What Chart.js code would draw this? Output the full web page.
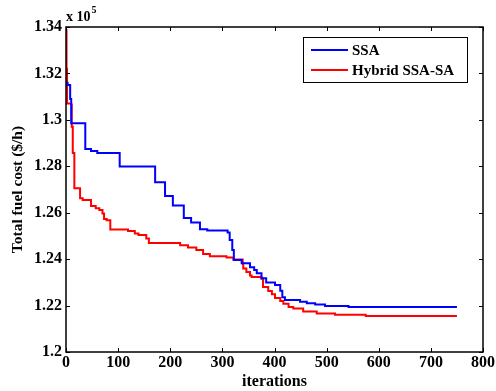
<!DOCTYPE html>
<html>
<head>
<meta charset="utf-8">
<script src="https://cdn.jsdelivr.net/npm/chart.js@4/dist/chart.umd.min.js"></script>
<style>
  html, body { margin: 0; padding: 0; background: #fff; }
  canvas { display: block; }
</style>
</head>
<body>
<canvas id="costChart" width="496" height="391"></canvas>
<script>
// SSA convergence (iteration where the value changes, cost x 1e5)
const ssaIter = [0, 3, 8, 10, 37, 48, 60, 103, 171, 190, 205, 226, 240, 257, 271, 310, 314, 319, 322, 337, 353, 361, 366, 375, 384, 401, 411, 415, 420, 449, 462, 478, 497, 542, 750];
const ssaCost = [1.316, 1.315, 1.309, 1.2985, 1.2874, 1.2866, 1.2857, 1.2799, 1.2731, 1.2672, 1.2631, 1.2577, 1.2558, 1.2529, 1.2523, 1.2515, 1.2483, 1.2439, 1.2396, 1.2382, 1.2365, 1.2353, 1.2339, 1.2318, 1.2299, 1.2289, 1.2264, 1.2236, 1.2224, 1.2217, 1.2210, 1.2205, 1.2198, 1.2194, 1.2194];

// Hybrid SSA-SA convergence
const hybIter = [0, 1, 2, 10, 11, 13, 16, 27, 32, 48, 57, 64, 70, 73, 78, 85, 119, 132, 139, 154, 159, 219, 234, 250, 263, 276, 308, 321, 339, 340, 346, 353, 356, 375, 378, 388, 395, 401, 411, 417, 427, 436, 455, 481, 516, 575, 750];
const hybCost = [1.3387, 1.322, 1.307, 1.3065, 1.297, 1.2857, 1.2705, 1.2662, 1.2655, 1.2629, 1.2619, 1.2612, 1.2597, 1.2573, 1.2568, 1.2528, 1.2521, 1.2511, 1.2504, 1.2489, 1.2470, 1.2460, 1.2450, 1.2439, 1.2422, 1.2413, 1.2407, 1.2399, 1.2381, 1.2360, 1.2345, 1.2330, 1.2323, 1.2316, 1.2280, 1.2263, 1.2249, 1.2233, 1.2220, 1.2208, 1.2194, 1.2187, 1.2175, 1.2166, 1.2160, 1.2155, 1.2155];

const seriesNames = ["SSA", "Hybrid SSA-SA"];
const seriesColors = ["#0000ff", "#ff0000"];

const xTicks = { min: 0, max: 800, step: 100 };
const yTicks = { min: 1.2, max: 1.34, step: 0.02 };

const toPoints = (xs, ys) => xs.map((x, i) => ({ x: x, y: ys[i] }));

const serif = "'Liberation Serif', 'Times New Roman', serif";

// MATLAB style box, inward ticks, exponent label and boxed legend
const matlabFrame = {
    id: "matlabFrame",
    afterDraw(chart) {
        const ctx = chart.ctx;
        const a = chart.chartArea;
        const xs = chart.scales.x;
        const ys = chart.scales.y;
        const tl = 4;

        ctx.save();
        ctx.strokeStyle = "#000";
        ctx.lineWidth = 1.5;
        ctx.strokeRect(a.left, a.top, a.right - a.left, a.bottom - a.top);

        ctx.lineWidth = 1;
        ctx.beginPath();
        xs.ticks.forEach(t => {
            const px = Math.round(xs.getPixelForValue(t.value)) + 0.5;
            ctx.moveTo(px, a.bottom); ctx.lineTo(px, a.bottom - tl);
            ctx.moveTo(px, a.top); ctx.lineTo(px, a.top + tl);
        });
        ys.ticks.forEach(t => {
            const py = Math.round(ys.getPixelForValue(t.value)) + 0.5;
            ctx.moveTo(a.left, py); ctx.lineTo(a.left + tl, py);
            ctx.moveTo(a.right, py); ctx.lineTo(a.right - tl, py);
        });
        ctx.stroke();

        // exponent
        ctx.fillStyle = "#000";
        ctx.textBaseline = "alphabetic";
        ctx.textAlign = "left";
        ctx.font = "bold 14px " + serif;
        ctx.fillText("x 10", a.left, 21);
        const w = ctx.measureText("x 10").width;
        ctx.font = "bold 10px " + serif;
        ctx.fillText("5", a.left + w + 1, 13);

        // legend
        const bx = 303, by = 37, bw = 164, bh = 45;
        ctx.fillStyle = "#fff";
        ctx.fillRect(bx, by, bw, bh);
        ctx.strokeStyle = "#000";
        ctx.lineWidth = 1;
        ctx.strokeRect(bx + 0.5, by + 0.5, bw, bh);
        ctx.font = "bold 15px " + serif;
        ctx.textBaseline = "middle";
        chart.data.datasets.forEach((ds, i) => {
            const ly = by + 13 + i * 20;
            ctx.strokeStyle = ds.borderColor;
            ctx.lineWidth = 2;
            ctx.beginPath();
            ctx.moveTo(bx + 8, ly);
            ctx.lineTo(bx + 45, ly);
            ctx.stroke();
            ctx.fillStyle = "#000";
            ctx.fillText(ds.label, bx + 49, ly + 1);
        });
        ctx.restore();
    }
};

Chart.defaults.color = "#000";
Chart.defaults.font.family = serif;

new Chart(
    document.getElementById("costChart"),
    {
        type: "line",
        data: {
            datasets: [
                {
                    label: seriesNames[0],
                    data: toPoints(ssaIter, ssaCost),
                    borderColor: seriesColors[0],
                    borderWidth: 2,
                    stepped: "before",
                    pointRadius: 0,
                    fill: false
                },
                {
                    label: seriesNames[1],
                    data: toPoints(hybIter, hybCost),
                    borderColor: seriesColors[1],
                    borderWidth: 2,
                    stepped: "before",
                    pointRadius: 0,
                    fill: false
                }
            ]
        },
        options: {
            responsive: false,
            animation: false,
            devicePixelRatio: 1,
            layout: { padding: { top: 27, right: 13, left: 0, bottom: 0 } },
            plugins: {
                legend: { display: false },
                tooltip: { enabled: false }
            },
            scales: {
                x: {
                    type: "linear",
                    min: xTicks.min,
                    max: xTicks.max,
                    grid: { display: false, drawTicks: false },
                    border: { display: false },
                    ticks: {
                        stepSize: xTicks.step,
                        padding: 1,
                        maxRotation: 0,
                        font: { size: 16, weight: "bold" }
                    },
                    title: {
                        display: true,
                        text: "iterations",
                        padding: 0,
                        font: { size: 16, weight: "bold" }
                    },
                    afterFit: s => { s.height = 39; }
                },
                y: {
                    type: "linear",
                    min: yTicks.min,
                    max: yTicks.max,
                    grid: { display: false, drawTicks: false },
                    border: { display: false },
                    ticks: {
                        stepSize: yTicks.step,
                        padding: 4,
                        font: { size: 16, weight: "bold" },
                        callback: v => String(parseFloat(v.toFixed(2)))
                    },
                    title: {
                        display: true,
                        text: "Total fuel cost ($/h)",
                        padding: { top: 9, bottom: 0 },
                        font: { size: 15.5, weight: "bold" }
                    },
                    afterFit: s => { s.width = 66; }
                }
            }
        },
        plugins: [matlabFrame]
    }
);
</script>
</body>
</html>
